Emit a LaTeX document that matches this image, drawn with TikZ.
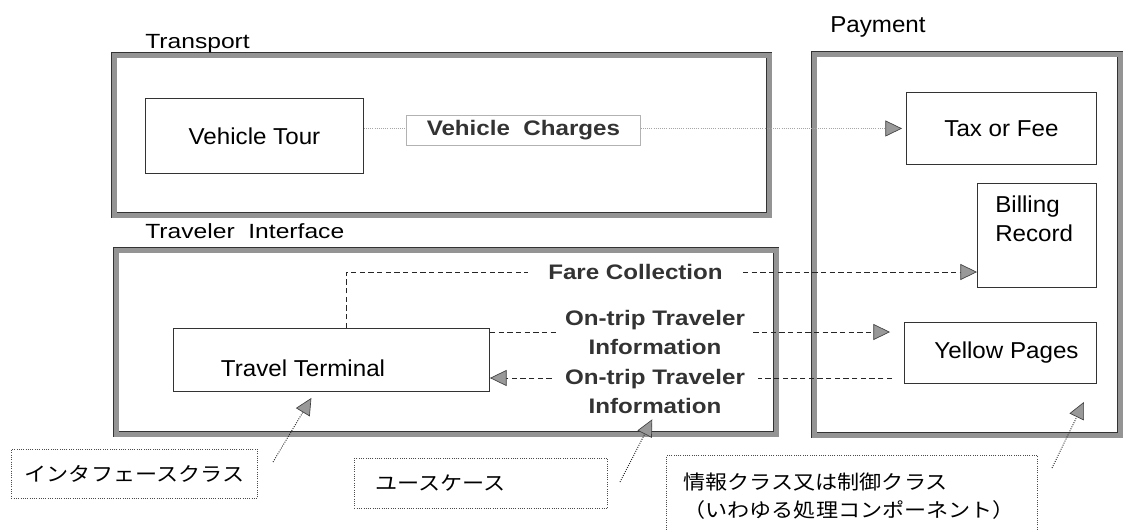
\documentclass[tikz,border=0pt]{standalone}
\usepackage{fontspec}
\setmainfont{Liberation Sans}[FakeStretch=1.05]
\newfontfamily\labelfont{Liberation Sans}[FakeStretch=1.2]
\newfontfamily\boldfont{Liberation Sans}[FakeStretch=1.15]
\newfontfamily\jpfont{Noto Sans CJK JP}[FakeStretch=1.12]
\usetikzlibrary{arrows.meta,calc}
\newlength\pxl
\setlength\pxl{0.75pt}
\tikzset{
  bigbox/.style={draw=black!80, line width=0.6pt, double=black!42, double distance=3.3pt, anchor=north west, inner sep=0pt},
  cls/.style={draw=black!80, line width=0.7pt, anchor=north west, inner sep=0pt, font=\fontsize{17.25pt}{21.75pt}\selectfont},
  txt/.style={inner sep=0pt, font=\fontsize{17.25pt}{21.75pt}\selectfont},
  boldlbl/.style={text=black!80, font=\boldfont\bfseries\fontsize{15.75pt}{21.75pt}\selectfont, align=center, inner sep=0pt},
  grp/.style={font=\labelfont\fontsize{15.4pt}{18pt}\selectfont, anchor=base west, inner sep=0pt},
  jbox/.style={draw=black!70, densely dotted, line width=0.7pt, anchor=north west, inner sep=0pt, font=\jpfont\fontsize{14.8pt}{21pt}\selectfont},
  flow/.style={draw=black!85, line width=0.7pt, dash pattern=on 4pt off 2.5pt},
  veh/.style={draw=gray!70, line width=0.6pt, densely dotted},
  note/.style={draw=black!85, line width=0.7pt, densely dotted},
  arr/.style={-{Triangle[length=12.5pt, width=12pt, color=black!75, fill=black!40, line width=0.5pt]}}
}
\begin{document}
\begin{tikzpicture}[x=0.75pt, y=-0.75pt]
\useasboundingbox (0,0) rectangle (1123,529);
\clip (0,0) rectangle (1123,529);

% package boxes
\node[bigbox, minimum width=655\pxl, minimum height=160\pxl] (transport) at (114,55) {};
\node[bigbox, minimum width=660\pxl, minimum height=184\pxl] (trav) at (116,250) {};
\node[bigbox, minimum width=306\pxl, minimum height=381\pxl] (pay) at (814,54) {};

\node[grp] (ltransport) at (145,48) {Transport};
\node[grp] (ltrav) at (145,238) {Traveler~~Interface};
\node[grp, font=\fontsize{17.25pt}{20pt}\selectfont] (lpay) at (830,32) {Payment};

% classes
\node[cls, minimum width=218\pxl, minimum height=75\pxl] (vt) at (145,98) {Vehicle Tour};
\node[cls, draw=gray!60, line width=0.6pt, minimum width=234\pxl, minimum height=30\pxl, text=black!80,
      font=\boldfont\bfseries\fontsize{15.75pt}{18pt}\selectfont] (vc) at (406,115) {Vehicle~~Charges};
\node[cls, minimum width=190\pxl, minimum height=72\pxl] (tax) at (906,92) {Tax or Fee};
\node[cls, minimum width=119\pxl, minimum height=104\pxl] (bill) at (977,183) {};
\node[txt, anchor=north west, align=left] (billtxt) at (995,196) {Billing\\Record};
\node[cls, minimum width=192\pxl, minimum height=61\pxl] (yp) at (904,322) {\hspace*{12\pxl}Yellow Pages};
\node[cls, minimum width=316\pxl, minimum height=63\pxl] (tt) at (173,328) {};
\node[txt] (tttxt) at (303,368) {Travel Terminal};

% use case labels
\node[boldlbl, inner xsep=20\pxl] (fare) at (635.5,272) {Fare Collection};
\node[boldlbl, inner xsep=8\pxl] (ot1) at (655,332) {On-trip Traveler\\Information};
\node[boldlbl, inner xsep=13\pxl] (ot2) at (655,391.5) {On-trip Traveler\\Information};

% notes
\node[jbox, minimum width=246\pxl, minimum height=49\pxl] (j1) at (11,449) {インタフェースクラス};
\node[jbox, minimum width=253\pxl, minimum height=50\pxl, text width=211\pxl, align=left, inner xsep=21\pxl] (j2) at (354,458) {ユースケース};
\node[jbox, minimum width=371\pxl, minimum height=82\pxl, text width=337\pxl, align=left, inner xsep=17\pxl] (j3) at (666,455) {情報クラス又は制御クラス\\（いわゆる処理コンポーネント）};

\coordinate (n1) at (273,462);
\coordinate (n2) at (620,482);
\coordinate (n3) at (1052,468);
\coordinate (r2) at ([yshift=13.5\pxl]ot2.west);
\coordinate (r2e) at ([yshift=13.5\pxl]ot2.east);

% connectors
\draw[veh] (vt.east |- tax.west) -- (vc.west |- tax.west);
\draw[veh, arr, shorten >=4\pxl] (vc.east |- tax.west) -- (tax.west);
\draw[flow] ([xshift=15\pxl]tt.north) |- (fare.west);
\draw[flow, arr] (fare.east) -- (bill.west |- fare.east);
\draw[flow] (tt.east |- ot1.west) -- (ot1.west);
\draw[flow, arr, shorten >=14\pxl] (ot1.east) -- (yp.west |- ot1.east);
\draw[flow, shorten <=12\pxl] (yp.west |- r2e) -- (r2e);
\draw[flow, arr] (r2) -- (tt.east |- r2);
\draw[note, arr, shorten >=7\pxl] (n1) -- ([xshift=-16.5\pxl]tt.south);
\draw[note, arr, shorten >=6\pxl] (n2) -- (ot2.south);
\draw[note, arr] (n3) -- ([xshift=-13\pxl, yshift=-18\pxl]yp.south east);
\end{tikzpicture}
\end{document}
